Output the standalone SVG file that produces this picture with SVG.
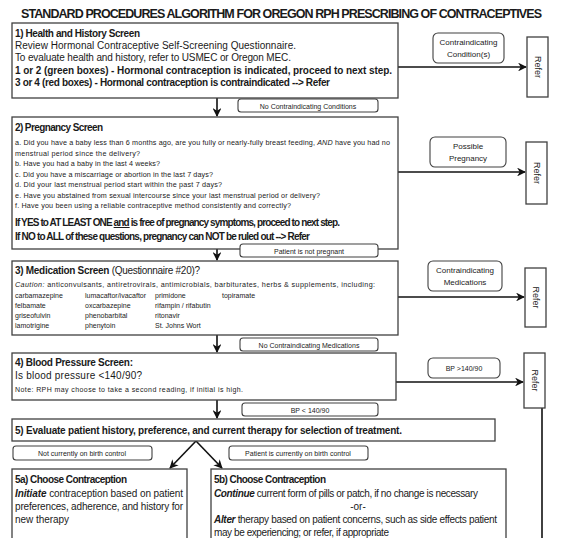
<svg xmlns="http://www.w3.org/2000/svg" width="563" height="538" viewBox="0 0 563 538">
<defs>
<style>
.box{fill:#fff;stroke:#404040;stroke-width:1.3}
.lbl{fill:#fff;stroke:#404040;stroke-width:1.1}
.t{font-family:"Liberation Sans",Arial,sans-serif;fill:#1a1a1a}
.b{font-weight:bold}
.s{font-size:7.2px}
.m{font-size:10px}
.l{font-size:7px}
.r{font-size:8px}
.ln{stroke:#111;stroke-width:1.6;fill:none}
</style>
<marker id="ah" viewBox="0 0 10 10" refX="9" refY="5" markerWidth="5.5" markerHeight="5.5" orient="auto"><path d="M0,0 L10,5 L0,10 L3,5 Z" fill="#111"/></marker>
</defs>
<rect width="563" height="538" fill="#fff"/>
<text class="t b" x="21" y="18" font-size="12.5" textLength="521" fill="#333">STANDARD PROCEDURES ALGORITHM FOR OREGON RPH PRESCRIBING OF CONTRACEPTIVES</text>

<g id="connectors">
<line class="ln" x1="217" y1="98" x2="217" y2="116" marker-end="url(#ah)"/>
<line class="ln" x1="217" y1="249" x2="217" y2="260" marker-end="url(#ah)"/>
<line class="ln" x1="217" y1="335" x2="217" y2="352" marker-end="url(#ah)"/>
<line class="ln" x1="217" y1="400" x2="217" y2="418" marker-end="url(#ah)"/>
<line class="ln" x1="196" y1="441" x2="170" y2="468" marker-end="url(#ah)"/>
<line class="ln" x1="196" y1="441" x2="222" y2="468" marker-end="url(#ah)"/>
<line class="ln" x1="398" y1="67" x2="526" y2="67" marker-end="url(#ah)"/>
<line class="ln" x1="398" y1="172" x2="525" y2="172" marker-end="url(#ah)"/>
<line class="ln" x1="398" y1="297" x2="524" y2="297" marker-end="url(#ah)"/>
<line class="ln" x1="396" y1="382" x2="523" y2="382" marker-end="url(#ah)"/>
<line class="ln" x1="542" y1="408" x2="542" y2="538"/>
</g>

<g id="box1">
<rect class="box" x="12" y="23" width="386" height="75"/>
<text class="t b m" x="15" y="37" textLength="125">1) Health and History Screen</text>
<text class="t m" x="15" y="49" textLength="281" fill="#333">Review Hormonal Contraceptive Self-Screening Questionnaire.</text>
<text class="t m" x="15" y="61" textLength="276" fill="#333">To evaluate health and history, refer to USMEC  or Oregon MEC.</text>
<text class="t b m" x="15" y="74" textLength="377">1 or 2 (green boxes)  - Hormonal contraception is indicated, proceed to next step.</text>
<text class="t b m" x="15" y="86" textLength="315">3 or 4 (red boxes) - Hormonal contraception is contraindicated --&gt; Refer</text>
</g>

<g id="label1">
<rect class="lbl" x="238" y="99" width="140" height="13" rx="3"/>
<text class="t l" x="308" y="108.5" text-anchor="middle">No Contraindicating Conditions</text>
</g>

<g id="box2">
<rect class="box" x="12" y="117" width="386" height="132"/>
<text class="t b m" x="15" y="131" textLength="88">2) Pregnancy Screen</text>
<text class="t s" x="15" y="145" textLength="375" fill="#333">a. Did you have a baby less than 6 months ago,  are you fully or nearly-fully breast feeding, <tspan font-style="italic">AND</tspan> have you had no</text>
<text class="t s" x="15" y="156" textLength="125" fill="#333">menstrual period since the delivery?</text>
<text class="t s" x="15" y="166" textLength="145" fill="#333">b. Have you had a baby in the last 4 weeks?</text>
<text class="t s" x="15" y="177" textLength="198" fill="#333">c. Did you have a miscarriage or abortion in the last 7 days?</text>
<text class="t s" x="15" y="187" textLength="207" fill="#333">d. Did your last menstrual period start within the past 7 days?</text>
<text class="t s" x="15" y="198" textLength="305" fill="#333">e. Have you abstained from sexual intercourse since your last menstrual period or delivery?</text>
<text class="t s" x="15" y="208" textLength="276" fill="#333">f. Have you been using a reliable contraceptive method consistently and correctly?</text>
<text class="t b m" x="15" y="226" textLength="325">If YES to AT LEAST ONE <tspan text-decoration="underline">and</tspan> is free of pregnancy symptoms, proceed to next step.</text>
<text class="t b m" x="15" y="240" textLength="295">If NO to ALL of these questions, pregnancy can NOT be ruled out --&gt; Refer</text>
</g>

<g id="label2">
<rect class="lbl" x="240" y="244" width="138" height="13" rx="3"/>
<text class="t l" x="309" y="253.5" text-anchor="middle">Patient is not pregnant</text>
</g>

<g id="box3">
<rect class="box" x="12" y="261" width="386" height="74"/>
<text class="t m" x="15" y="274" textLength="185"><tspan class="b">3) Medication Screen</tspan> (Questionnaire #20)?</text>
<text class="t s" x="15" y="287" textLength="360"><tspan font-style="italic">Caution:</tspan> anticonvulsants, antiretrovirals, antimicrobials, barbiturates, herbs &amp; supplements, including:</text>
<text class="t l" x="15" y="298">carbamazepine</text>
<text class="t l" x="85" y="298">lumacaftor/ivacaftor</text>
<text class="t l" x="155" y="298">primidone</text>
<text class="t l" x="222" y="298">topiramate</text>
<text class="t l" x="15" y="308">felbamate</text>
<text class="t l" x="85" y="308">oxcarbazepine</text>
<text class="t l" x="155" y="308">rifampin / rifabutin</text>
<text class="t l" x="15" y="318">griseofulvin</text>
<text class="t l" x="85" y="318">phenobarbital</text>
<text class="t l" x="155" y="318">ritonavir</text>
<text class="t l" x="15" y="328">lamotrigine</text>
<text class="t l" x="85" y="328">phenytoin</text>
<text class="t l" x="155" y="328">St. Johns Wort</text>
</g>

<g id="label3">
<rect class="lbl" x="240" y="338" width="138" height="13" rx="3"/>
<text class="t l" x="309" y="347.5" text-anchor="middle">No Contraindicating Medications</text>
</g>

<g id="box4">
<rect class="box" x="12" y="353" width="384" height="47"/>
<text class="t b m" x="15" y="366" textLength="118">4) Blood Pressure Screen:</text>
<text class="t m" x="15" y="379" textLength="127" fill="#333">Is blood pressure &lt;140/90?</text>
<text class="t l" x="15" y="392" textLength="228">Note: RPH may choose to take a second reading, if initial is high.</text>
</g>

<g id="label4">
<rect class="lbl" x="242" y="403" width="136" height="13" rx="3"/>
<text class="t l" x="310" y="412.5" text-anchor="middle">BP &lt;  140/90</text>
</g>

<g id="box5">
<rect class="box" x="12" y="419" width="483" height="22"/>
<text class="t b m" x="15" y="434" textLength="387">5) Evaluate patient history, preference, and current therapy for selection of treatment.</text>
</g>

<g id="label5a">
<rect class="lbl" x="13" y="446" width="139" height="14" rx="3"/>
<text class="t l" x="82" y="455.5" text-anchor="middle">Not currently on birth control</text>
</g>
<g id="label5b">
<rect class="lbl" x="229" y="446" width="139" height="14" rx="3"/>
<text class="t l" x="298" y="455.5" text-anchor="middle">Patient is currently on birth control</text>
</g>

<g id="box5a">
<rect class="box" x="12" y="469" width="175" height="80"/>
<text class="t b m" x="15" y="483" textLength="112">5a) Choose Contraception</text>
<text class="t m" x="15" y="497" textLength="168"><tspan class="b" font-style="italic">Initiate</tspan> contraception based on patient</text>
<text class="t m" x="15" y="510" textLength="168">preferences, adherence, and history for</text>
<text class="t m" x="15" y="523" textLength="54">new therapy</text>
</g>

<g id="box5b">
<rect class="box" x="211" y="469" width="295" height="80"/>
<text class="t b m" x="214" y="483" textLength="112">5b) Choose Contraception</text>
<text class="t m" x="214" y="497" textLength="264"><tspan class="b" font-style="italic">Continue</tspan> current form of pills or patch, if no change is necessary</text>
<text class="t m" x="358" y="510" text-anchor="middle">-or-</text>
<text class="t m" x="214" y="523" textLength="283"><tspan class="b" font-style="italic">Alter</tspan> therapy based on patient concerns, such as side effects patient</text>
<text class="t m" x="214" y="536" textLength="175">may be experiencing; or refer, if appropriate</text>
</g>

<g id="cond1">
<rect class="lbl" x="433" y="33" width="71" height="30" rx="5"/>
<text class="t r" x="468.5" y="45" text-anchor="middle">Contraindicating</text>
<text class="t r" x="468.5" y="57" text-anchor="middle">Condition(s)</text>
</g>
<g id="refer1">
<rect class="box" x="527" y="37" width="21" height="60"/>
<text class="t" font-size="9" transform="translate(534.5,67) rotate(90)" text-anchor="middle">Refer</text>
</g>

<g id="cond2">
<rect class="lbl" x="430" y="137" width="76" height="30" rx="5"/>
<text class="t r" x="468" y="149" text-anchor="middle">Possible</text>
<text class="t r" x="468" y="161" text-anchor="middle">Pregnancy</text>
</g>
<g id="refer2">
<rect class="box" x="526" y="142" width="21" height="62"/>
<text class="t" font-size="9" transform="translate(533.5,173) rotate(90)" text-anchor="middle">Refer</text>
</g>

<g id="cond3">
<rect class="lbl" x="428" y="261" width="74" height="30" rx="5"/>
<text class="t r" x="465" y="273" text-anchor="middle">Contraindicating</text>
<text class="t r" x="465" y="285" text-anchor="middle">Medications</text>
</g>
<g id="refer3">
<rect class="box" x="525" y="268" width="21" height="59"/>
<text class="t" font-size="9" transform="translate(532.5,297.5) rotate(90)" text-anchor="middle">Refer</text>
</g>

<g id="cond4">
<rect class="lbl" x="428" y="358" width="72" height="20" rx="5"/>
<text class="t l" x="464" y="371" text-anchor="middle">BP &gt;140/90</text>
</g>
<g id="refer4">
<rect class="box" x="524" y="353" width="21" height="55"/>
<text class="t" font-size="9" transform="translate(531.5,380.5) rotate(90)" text-anchor="middle">Refer</text>
</g>
</svg>
